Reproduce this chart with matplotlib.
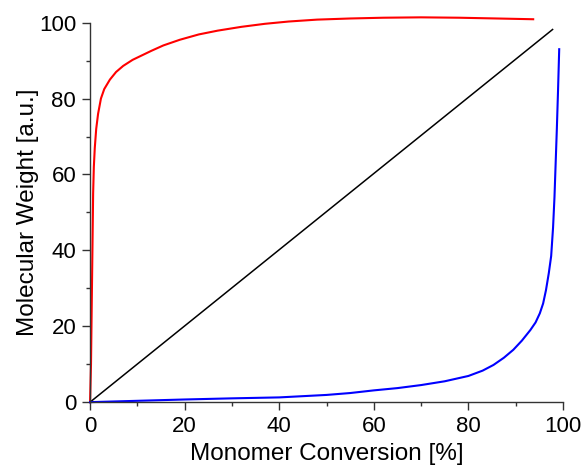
import matplotlib
matplotlib.use('Agg')
from matplotlib import pyplot as plt
from matplotlib.ticker import MultipleLocator

plt.rcParams['font.family'] = ['Liberation Sans', 'DejaVu Sans']

# chain growth (red)
red_x = [0, 0.2, 0.35, 0.5, 0.65, 0.8, 1.0, 1.3, 1.7, 2.3, 3, 4.2, 5.5, 7, 9,
         11, 13, 15.5, 19, 23, 27, 32, 37, 42, 48, 55, 62, 70, 78, 86, 93.7]
red_y = [0, 10, 25, 40, 55, 62, 67, 72, 76, 80, 82.5, 85, 87, 88.6, 90.2,
         91.4, 92.6, 94, 95.5, 96.9, 97.9, 98.9, 99.7, 100.3, 100.8, 101.1,
         101.3, 101.4, 101.3, 101.1, 100.9]

# living (black)
black_x = [0, 97.8]
black_y = [0, 98.2]

# step growth (blue)
blue_x = [0, 10, 20, 30, 40, 50, 55, 60, 65, 70, 75, 80, 83, 85.3, 87.5, 89.5,
          91.3, 93.1, 94.2, 95.1, 95.8, 96.4, 97, 97.5, 97.9, 98.2, 98.45,
          98.7, 98.95, 99.2]
blue_y = [0, 0.35, 0.7, 1.0, 1.25, 1.9, 2.4, 3.1, 3.7, 4.5, 5.5, 6.9, 8.3, 9.8,
          11.7, 13.8, 16.2, 19, 21, 23.4, 26, 29.5, 34, 38.5, 46, 54, 63, 72,
          82, 93]

fig = plt.figure(figsize=(5.81, 4.72), dpi=100)
ax = fig.add_axes([0.155, 0.148, 0.814, 0.804])

ax.plot(red_x, red_y, color='#ff0000', lw=1.5, clip_on=False)
ax.plot(black_x, black_y, color='black', lw=1.1, clip_on=False)
ax.plot(blue_x, blue_y, color='#0000ff', lw=1.5, clip_on=False)

ax.set_xlim(0, 100)
ax.set_ylim(0, 100)
ax.xaxis.set_major_locator(MultipleLocator(20))
ax.xaxis.set_minor_locator(MultipleLocator(10))
ax.yaxis.set_major_locator(MultipleLocator(20))
ax.yaxis.set_minor_locator(MultipleLocator(10))

for s in ['top', 'right']:
    ax.spines[s].set_visible(False)
for s in ['left', 'bottom']:
    ax.spines[s].set_linewidth(1.0)
    ax.spines[s].set_color('#333333')

ax.tick_params(which='major', direction='out', length=6, width=1.0,
               color='#333333', labelsize=16, pad=4)
ax.tick_params(which='minor', direction='out', length=3, width=1.0,
               color='#333333')

ax.set_xlabel('Monomer Conversion [%]', fontsize=17.5, labelpad=4)
ax.set_ylabel('Molecular Weight [a.u.]', fontsize=17.5, labelpad=0)

fig.savefig('out.png', dpi=100)
